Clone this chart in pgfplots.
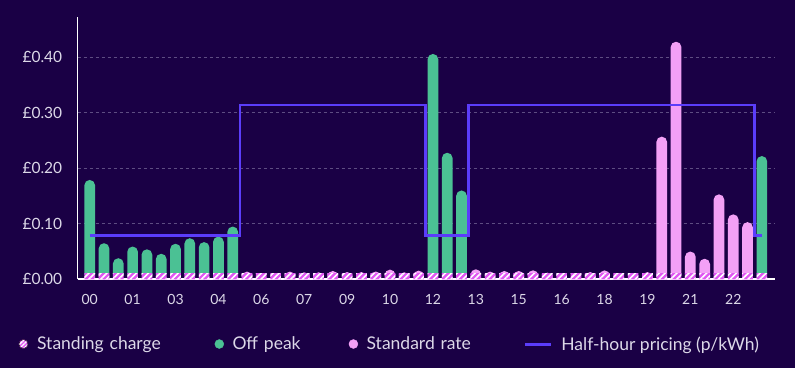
\documentclass[border=0pt]{standalone}
\usepackage{fontspec}
\setmainfont{Lato}
\usepackage{pgfplots}
\pgfplotsset{compat=1.18}
\usetikzlibrary{patterns.meta}
\definecolor{bg}{HTML}{1A0045}
\definecolor{offpeak}{HTML}{4BC194}
\definecolor{stdrate}{HTML}{F3A0F6}
\definecolor{standing}{HTML}{E056F2}
\definecolor{price}{HTML}{5B3DFA}
\definecolor{gridc}{HTML}{5E4D82}
\definecolor{txt}{HTML}{DCD8E8}
\tikzset{hatch/.style={fill=standing, postaction={pattern={Lines[angle=45,distance=4.2pt,line width=1.6pt]}, pattern color=white}}}
\begin{document}
\begin{tikzpicture}
\fill[bg] (0,0) rectangle (795pt,368pt);
\begin{axis}[
  at={(77.7pt,88.7pt)}, anchor=south west,
  scale only axis, width=697.3pt, height=262.3pt,
  xmin=-0.84, xmax=47.92, ymin=0, ymax=0.4726,
  axis x line*=bottom, axis y line*=left,
  x axis line style={white, -, line width=2pt},
  y axis line style={white, -, line width=1.2pt},
  major tick length=0pt,
  ytick={0,0.1,0.2,0.3,0.4},
  yticklabels={£0.00,£0.10,£0.20,£0.30,£0.40},
  xtick={0,3,...,45},
  xticklabels={00,01,03,04,06,07,09,10,12,13,15,16,18,19,21,22},
  ymajorgrids, grid style={gridc, line width=0.8pt, dash pattern=on 3pt off 3pt},
  tick label style={text=txt},
  xticklabel style={font=\fontsize{14}{16}\selectfont, yshift=-12pt},
  yticklabel style={font=\fontsize{15.5}{17}\selectfont, xshift=-12pt},
  ybar, bar width=10.7pt, bar shift=0pt,
  legend columns=4,
  legend style={at={(-0.0853,-0.2467)}, anchor=west, draw=none, fill=none, text=txt,
    inner sep=0pt, outer sep=0pt,
    font=\fontsize{17.5}{19}\selectfont,
    /tikz/every odd column/.append style={column sep=8.5pt},
    /tikz/every even column/.append style={column sep=0pt}},
]
\addlegendimage{legend image code/.code={\fill[standing] (0pt,0pt) circle (4.5pt); \fill[pattern={Lines[angle=45,distance=3pt,line width=1.4pt]},pattern color=white] (0pt,0pt) circle (4.5pt);}}
\addlegendentry[text width=177.5pt, inner sep=0pt, align=left]{Standing charge}
\addlegendimage{legend image code/.code={\fill[offpeak] (0pt,0pt) circle (4.5pt);}}
\addlegendentry[text width=116.2pt, inner sep=0pt, align=left]{Off peak}
\addlegendimage{legend image code/.code={\fill[stdrate] (0pt,0pt) circle (4.5pt);}}
\addlegendentry[text width=156.7pt, inner sep=0pt, align=left]{Standard rate}
\addlegendimage{legend image code/.code={\draw[price, line width=3pt] (0pt,0pt) -- (26.5pt,0pt);}}
\addlegendentry[inner sep=0pt, align=left]{Half-hour pricing (p/kWh)}

% Off peak (bar tops, including the standing charge)
\addplot[forget plot, draw=none, fill=offpeak, rounded corners=5.3pt] coordinates {
(0,0.179) (1,0.065) (2,0.038) (3,0.059) (4,0.054) (5,0.046) (6,0.064)
(7,0.074) (8,0.067) (9,0.077) (10,0.095)
(24,0.406) (25,0.228) (26,0.160) (47,0.222)};
% Standard rate (bar tops, including the standing charge)
\addplot[forget plot, draw=none, fill=stdrate, rounded corners=5.3pt] coordinates {
(11,0.0138) (14,0.0138) (15,0.0126) (16,0.0126) (17,0.015) (18,0.013)
(19,0.013) (20,0.014) (21,0.0174) (22,0.0126) (23,0.0156)
(27,0.018) (28,0.0138) (29,0.015) (30,0.015) (31,0.0162) (32,0.012)
(35,0.013) (36,0.016) (39,0.013)
(40,0.257) (41,0.428) (42,0.050) (43,0.037) (44,0.153) (45,0.117) (46,0.103)};
% Standing charge
\addplot[forget plot, draw=none, hatch, sharp corners] coordinates {
(0,0.011) (1,0.011) (2,0.011) (3,0.011) (4,0.011) (5,0.011) (6,0.011) (7,0.011)
(8,0.011) (9,0.011) (10,0.011) (11,0.011) (12,0.011) (13,0.011) (14,0.011) (15,0.011)
(16,0.011) (17,0.011) (18,0.011) (19,0.011) (20,0.011) (21,0.011) (22,0.011) (23,0.011)
(24,0.011) (25,0.011) (26,0.011) (27,0.011) (28,0.011) (29,0.011) (30,0.011) (31,0.011)
(32,0.011) (33,0.011) (34,0.011) (35,0.011) (36,0.011) (37,0.011) (38,0.011) (39,0.011)
(40,0.011) (41,0.011) (42,0.011) (43,0.011) (44,0.011) (45,0.011) (46,0.011) (47,0.011)};
% Half-hour pricing
\addplot[forget plot, const plot mark mid, price, line width=2.6pt, mark=none] coordinates {
(0,0.079) (1,0.079) (2,0.079) (3,0.079) (4,0.079) (5,0.079) (6,0.079) (7,0.079)
(8,0.079) (9,0.079) (10,0.079) (11,0.314) (12,0.314) (13,0.314) (14,0.314) (15,0.314)
(16,0.314) (17,0.314) (18,0.314) (19,0.314) (20,0.314) (21,0.314) (22,0.314) (23,0.314)
(24,0.079) (25,0.079) (26,0.079) (27,0.314) (28,0.314) (29,0.314) (30,0.314) (31,0.314)
(32,0.314) (33,0.314) (34,0.314) (35,0.314) (36,0.314) (37,0.314) (38,0.314) (39,0.314)
(40,0.314) (41,0.314) (42,0.314) (43,0.314) (44,0.314) (45,0.314) (46,0.314) (47,0.079)};
\end{axis}
\pgfresetboundingbox
\useasboundingbox (0,0) rectangle (795pt,368pt);
\end{tikzpicture}
\end{document}
